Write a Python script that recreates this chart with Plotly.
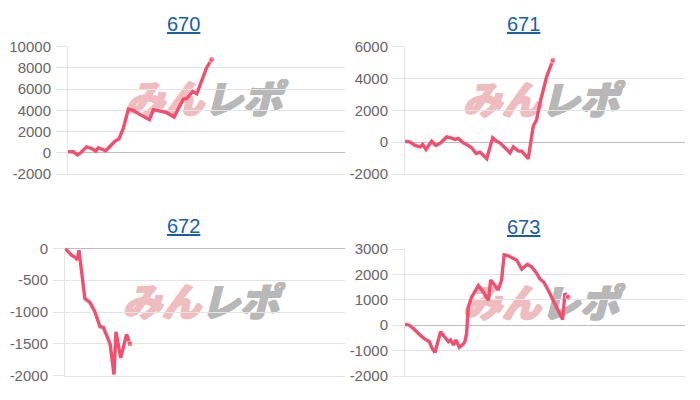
import plotly.graph_objects as go

# ---------------- data ----------------
titles = ["670", "671", "672", "673"]

x670 = [0, 1.9, 3.4, 4.6, 6.7, 8.6, 10, 10.9, 12.5, 13.6, 15.2, 17, 18.4, 20, 21.8, 23.6, 26,
        29.4, 30.8, 33.2, 35.6, 38.3, 39.8, 41.6, 43, 45, 46.5, 48.3, 50, 51.9]
y670 = [100, 100, -200, 0, 560, 400, 150, 470, 310, 190, 620, 1100, 1300, 2340, 4125, 4000, 3600,
        3125, 4060, 3900, 3800, 3375, 4200, 5060, 5150, 5780, 5560, 6875, 8000, 8800]

x671 = [0, 1.8, 3.6, 5.4, 6.3, 7.5, 9.5, 11, 12.5, 14.9, 16.3, 17.9, 19, 20.8, 22.6, 23.8, 25.4,
        26.8, 29.2, 31.3, 32.7, 33.9, 35.7, 37.5, 38.7, 40.5, 41.7, 44, 45.8, 47, 48.2, 50.6, 52.8]
y671 = [60, 0, -210, -290, -150, -460, 60, -210, -80, 330, 270, 170, 230, -40, -210, -350, -710,
        -625, -1040, 270, 60, -40, -350, -670, -290, -560, -560, -1040, 1000, 1415, 2450, 4120, 5150]

x672 = [0, 1.4, 2.4, 3.6, 4.4, 5.0, 7.1, 8.9, 10.7, 12.5, 13.7, 16.1, 17.5, 18.2, 19.9, 22.0, 23.2]
y672 = [0, -70, -110, -140, -180, -30, -790, -850, -1000, -1230, -1240, -1500, -1980, -1310,
        -1720, -1350, -1500]

x673 = [0, 1.5, 3, 4.8, 6, 7.7, 8.7, 9.5, 10.7, 12.7, 14.3, 15.5, 16.3, 17.3, 18.2, 19.4, 20.8,
        21.4, 22, 22.6, 23.8, 25, 26.2, 28, 29.8, 30.6, 32.1, 33.3, 34.5, 35.4, 36.9, 38.7, 39.9,
        41.7, 43.7, 45.2, 46.8, 48.2, 49.6, 51.2, 53, 54.8, 56.3, 57.1, 58.3]
y673 = [40, 0, -130, -350, -455, -585, -650, -870, -1080, -260, -455, -650, -585, -780, -585, -870,
        -740, -650, -325, 715, 1100, 1365, 1560, 1300, 975, 1780, 1560, 1390, 1780, 2770, 2730,
        2640, 2560, 2210, 2400, 2300, 2080, 1820, 1690, 1365, 975, 585, 220, 1250, 1100]

ytick_vals = [
    [-2000, 0, 2000, 4000, 6000, 8000, 10000],
    [-2000, 0, 2000, 4000, 6000],
    [-2000, -1500, -1000, -500, 0],
    [-2000, -1000, 0, 1000, 2000, 3000],
]
ytick_text = [
    ["-2000", "0", "2000", "4000", "6000", "8000", "10000"],
    ["-2000", "0", "2000", "4000", "6000"],
    ["-2000", "-1500", "-1000", "-500", "0"],
    ["-2000", "-1000", "0", "1000", "2000", "3000"],
]
y_ranges = [[-2000, 10000], [-2000, 6000], [-2000, 0], [-2000, 3000]]
x_range = [0, 100]

series = [(x670, y670), (x671, y671), (x672, y672), (x673, y673)]

# ---------------- layout ----------------
W, H = 700, 400
LINE = "#f0506e"
GRID = "#e4e4e4"
ZERO = "#bdbdbd"
TICKC = "#666666"
TITLEC = "#1a5ea6"
FONT = "Arial, Liberation Sans, sans-serif"
PINK = "#efbcc0"
GRAY = "#b8b8b8"


def heavy(color):
    sh = ", ".join(f"{dx}px {dy}px 0 {color}" for dx, dy in [(1, 0), (2, 0), (1, 1), (0, 1)])
    return f"color:{color};text-shadow:{sh}"


# plot areas in pixels: (left, right, top, bottom)
areas = [(68, 345, 46.7, 174), (405, 685, 46.7, 174), (65, 345, 248.3, 375.8), (405, 685, 249, 376)]
title_pos = [(183, 24), (523, 24), (183, 226), (523, 226.5)]
wm_centers = [(203, 102), (540, 103), (200, 305), (540, 306)]

fig = go.Figure()
layout = dict(width=W, height=H, margin=dict(l=0, r=0, t=0, b=0, autoexpand=False),
              paper_bgcolor="white", plot_bgcolor="white", showlegend=False,
              font=dict(family=FONT, color=TICKC), annotations=[], shapes=[])

for i, ((xs, ys), yr) in enumerate(zip(series, y_ranges)):
    n = i + 1
    xa = "x" if n == 1 else f"x{n}"
    ya = "y" if n == 1 else f"y{n}"
    sizes = [0] * (len(xs) - 1) + [6]
    fig.add_trace(go.Scatter(x=xs, y=ys, mode="lines+markers", xaxis=xa, yaxis=ya,
                             line=dict(color=LINE, width=3.4),
                             marker=dict(color=LINE, size=sizes, symbol="circle"),
                             hoverinfo="skip"))
    l, r, t, b = areas[i]
    layout[f"xaxis{'' if n == 1 else n}"] = dict(
        domain=[l / W, r / W], range=x_range, anchor=ya, showgrid=False, zeroline=False,
        showticklabels=False, ticks="", showline=True, linecolor=GRID, linewidth=1,
        automargin=False)
    layout[f"yaxis{'' if n == 1 else n}"] = dict(
        domain=[1 - b / H, 1 - t / H], range=yr, anchor=xa,
        tickmode="array", tickvals=ytick_vals[i], ticktext=ytick_text[i],
        showgrid=True, gridcolor=GRID, gridwidth=1,
        zeroline=True, zerolinecolor=ZERO, zerolinewidth=1,
        showline=True, linecolor=GRID, linewidth=1,
        ticks="outside", ticklen=11, tickcolor=GRID, ticklabelstandoff=2,
        tickfont=dict(family=FONT, size=15, color=TICKC), automargin=False)
    tx, ty = title_pos[i]
    layout["annotations"].append(dict(
        text=f"<u>{titles[i]}</u>", x=tx / W, y=1 - ty / H, xref="paper", yref="paper",
        xanchor="center", yanchor="middle", showarrow=False,
        font=dict(family=FONT, size=20, color=TITLEC)))
    cx, cy = wm_centers[i]
    layout["shapes"].append(dict(
        type="rect", xref="paper", yref="paper",
        x0=(cx - 82) / W, x1=(cx + 82) / W, y0=1 - (cy + 16) / H, y1=1 - (cy - 16) / H,
        line=dict(width=0), fillcolor="rgba(0,0,0,0)", layer="below",
        label=dict(text=f"<span style='{heavy(PINK)}'>みん</span>"
                        f"<span style='{heavy(GRAY)}'>レポ</span>",
                   textposition="middle center",
                   font=dict(family="Noto Sans CJK JP", size=39, weight=900, style="italic"))))

fig.update_layout(**layout)
fig.write_html("out.html", config={"displayModeBar": False},
               post_script="document.body.style.margin='0';")
